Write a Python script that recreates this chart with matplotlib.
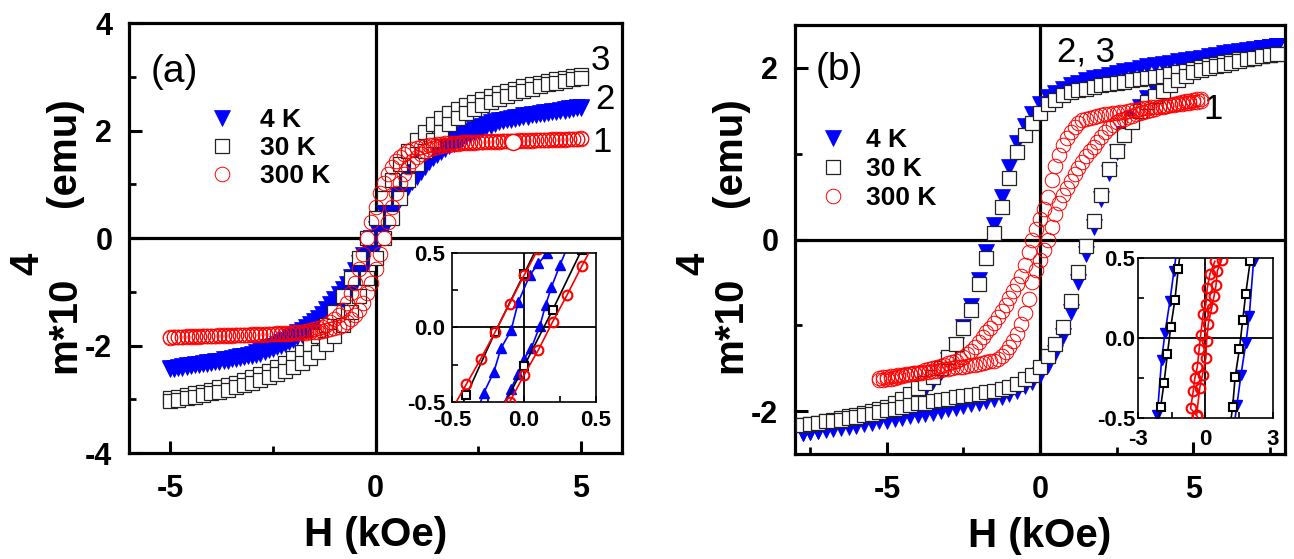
import matplotlib
matplotlib.use('Agg')
import matplotlib.pyplot as plt
from matplotlib.ticker import MultipleLocator

plt.rcParams['font.family'] = ['Liberation Sans', 'DejaVu Sans']
plt.rcParams['axes.unicode_minus'] = False

# ---------------- panel (a) data ----------------
# field grid of the 30 K sweep (kOe)
H_a = [-5.0, -4.8, -4.6, -4.4, -4.2, -4.0, -3.8, -3.6, -3.4, -3.2, -3.0, -2.8, -2.6,
       -2.4, -2.2, -2.0, -1.8, -1.6, -1.4, -1.2, -1.0, -0.8, -0.6, -0.4, -0.2, 0.0,
       0.2, 0.4, 0.6, 0.8, 1.0, 1.2, 1.4, 1.6, 1.8, 2.0, 2.2, 2.4, 2.6, 2.8, 3.0,
       3.2, 3.4, 3.6, 3.8, 4.0, 4.2, 4.4, 4.6, 4.8, 5.0]
# finer field grid of the 4 K and 300 K sweeps (kOe)
H_af = [-5.0, -4.9, -4.8, -4.7, -4.6, -4.5, -4.4, -4.3, -4.2, -4.1,
        -4.0, -3.9, -3.8, -3.7, -3.6, -3.5, -3.4, -3.3, -3.2, -3.1,
        -3.0, -2.9, -2.8, -2.7, -2.6, -2.5, -2.4, -2.3, -2.2, -2.1,
        -2.0, -1.9, -1.8, -1.7, -1.6, -1.5, -1.4, -1.3, -1.2, -1.1,
        -1.0, -0.9, -0.8, -0.7, -0.6, -0.5, -0.4, -0.3, -0.2, -0.1,
        0.0, 0.1, 0.2, 0.3, 0.4, 0.5, 0.6, 0.7, 0.8, 0.9,
        1.0, 1.1, 1.2, 1.3, 1.4, 1.5, 1.6, 1.7, 1.8, 1.9,
        2.0, 2.1, 2.2, 2.3, 2.4, 2.5, 2.6, 2.7, 2.8, 2.9,
        3.0, 3.1, 3.2, 3.3, 3.4, 3.5, 3.6, 3.7, 3.8, 3.9,
        4.0, 4.1, 4.2, 4.3, 4.4, 4.5, 4.6, 4.7, 4.8, 4.9,
        5.0]
m4K_a_dn = [-2.42, -2.41, -2.40, -2.38, -2.37, -2.36, -2.35, -2.34, -2.33, -2.31,
            -2.30, -2.29, -2.28, -2.26, -2.25, -2.23, -2.22, -2.20, -2.19, -2.17,
            -2.15, -2.12, -2.09, -2.06, -2.03, -2.00, -1.97, -1.93, -1.89, -1.84,
            -1.80, -1.75, -1.71, -1.66, -1.60, -1.54, -1.48, -1.41, -1.32, -1.23,
            -1.14, -1.04, -0.95, -0.85, -0.73, -0.60, -0.46, -0.32, -0.16, 0.00,
            0.16, 0.32, 0.46, 0.60, 0.73, 0.85, 0.95, 1.04, 1.14, 1.23,
            1.32, 1.41, 1.48, 1.54, 1.60, 1.66, 1.71, 1.75, 1.80, 1.84,
            1.89, 1.93, 1.97, 2.00, 2.03, 2.06, 2.09, 2.12, 2.15, 2.17,
            2.19, 2.20, 2.22, 2.23, 2.25, 2.26, 2.28, 2.29, 2.30, 2.31,
            2.33, 2.34, 2.35, 2.36, 2.37, 2.38, 2.40, 2.41, 2.42, 2.43,
            2.44]
m4K_a_up = [-2.44, -2.43, -2.42, -2.41, -2.40, -2.38, -2.37, -2.36, -2.35, -2.34,
            -2.33, -2.31, -2.30, -2.29, -2.28, -2.26, -2.25, -2.23, -2.22, -2.20,
            -2.19, -2.17, -2.15, -2.12, -2.09, -2.06, -2.03, -2.00, -1.97, -1.93,
            -1.89, -1.84, -1.80, -1.75, -1.71, -1.66, -1.60, -1.54, -1.48, -1.41,
            -1.32, -1.23, -1.14, -1.04, -0.95, -0.85, -0.73, -0.60, -0.46, -0.32,
            -0.16, 0.00, 0.16, 0.32, 0.46, 0.60, 0.73, 0.85, 0.95, 1.04,
            1.14, 1.23, 1.32, 1.41, 1.48, 1.54, 1.60, 1.66, 1.71, 1.75,
            1.80, 1.84, 1.89, 1.93, 1.97, 2.00, 2.03, 2.06, 2.09, 2.12,
            2.15, 2.17, 2.19, 2.20, 2.22, 2.23, 2.25, 2.26, 2.28, 2.29,
            2.30, 2.31, 2.33, 2.34, 2.35, 2.36, 2.37, 2.38, 2.40, 2.41,
            2.42]
m30K_a_dn = [-2.98, -2.95, -2.92, -2.89, -2.86, -2.82, -2.78, -2.74, -2.69, -2.64,
             -2.59, -2.53, -2.47, -2.40, -2.32, -2.23, -2.12, -1.98, -1.82, -1.62,
             -1.38, -1.08, -0.75, -0.38, 0.0, 0.38, 0.75, 1.08, 1.38, 1.62,
             1.82, 1.98, 2.12, 2.23, 2.32, 2.40, 2.47, 2.53, 2.59, 2.64,
             2.69, 2.74, 2.78, 2.82, 2.86, 2.89, 2.92, 2.95, 2.98, 3.01, 3.03]
m30K_a_up = [-3.03, -3.01, -2.98, -2.95, -2.92, -2.89, -2.86, -2.82, -2.78, -2.74,
             -2.69, -2.64, -2.59, -2.53, -2.47, -2.40, -2.32, -2.23, -2.12, -1.98,
             -1.82, -1.62, -1.38, -1.08, -0.75, -0.38, 0.0, 0.38, 0.75, 1.08,
             1.38, 1.62, 1.82, 1.98, 2.12, 2.23, 2.32, 2.40, 2.47, 2.53,
             2.59, 2.64, 2.69, 2.74, 2.78, 2.82, 2.86, 2.89, 2.92, 2.95, 2.98]
m300K_a_dn = [-1.84, -1.84, -1.84, -1.84, -1.83, -1.83, -1.83, -1.83, -1.82, -1.82,
              -1.82, -1.82, -1.81, -1.81, -1.81, -1.81, -1.80, -1.80, -1.80, -1.80,
              -1.79, -1.79, -1.79, -1.78, -1.78, -1.78, -1.77, -1.77, -1.76, -1.76,
              -1.75, -1.75, -1.74, -1.73, -1.71, -1.70, -1.68, -1.65, -1.62, -1.57,
              -1.51, -1.43, -1.33, -1.20, -1.03, -0.83, -0.58, -0.30, 0.00, 0.30,
              0.58, 0.83, 1.03, 1.20, 1.33, 1.43, 1.51, 1.57, 1.62, 1.65,
              1.68, 1.70, 1.71, 1.73, 1.74, 1.75, 1.75, 1.76, 1.76, 1.77,
              1.77, 1.78, 1.78, 1.78, 1.79, 1.79, 1.79, 1.80, 1.80, 1.80,
              1.80, 1.81, 1.81, 1.81, 1.81, 1.82, 1.82, 1.82, 1.82, 1.83,
              1.83, 1.83, 1.83, 1.84, 1.84, 1.84, 1.84, 1.85, 1.85, 1.85,
              1.86]
m300K_a_up = [-1.86, -1.85, -1.85, -1.85, -1.84, -1.84, -1.84, -1.84, -1.83, -1.83,
              -1.83, -1.83, -1.82, -1.82, -1.82, -1.82, -1.81, -1.81, -1.81, -1.81,
              -1.80, -1.80, -1.80, -1.80, -1.79, -1.79, -1.79, -1.78, -1.78, -1.78,
              -1.77, -1.77, -1.76, -1.76, -1.75, -1.75, -1.74, -1.73, -1.71, -1.70,
              -1.68, -1.65, -1.62, -1.57, -1.51, -1.43, -1.33, -1.20, -1.03, -0.83,
              -0.58, -0.30, 0.00, 0.30, 0.58, 0.83, 1.03, 1.20, 1.33, 1.43,
              1.51, 1.57, 1.62, 1.65, 1.68, 1.70, 1.71, 1.73, 1.74, 1.75,
              1.75, 1.76, 1.76, 1.77, 1.77, 1.78, 1.78, 1.78, 1.79, 1.79,
              1.79, 1.80, 1.80, 1.80, 1.80, 1.81, 1.81, 1.81, 1.81, 1.82,
              1.82, 1.82, 1.82, 1.83, 1.83, 1.83, 1.83, 1.84, 1.84, 1.84,
              1.84]
spot300_H = [3.35]
spot300_M = [1.79]

# inset (a)
ia_red_H1 = [-0.6, -0.5, -0.4, -0.3, -0.2, -0.1, 0.0, 0.1]
ia_red_M1 = [-0.72, -0.55, -0.38, -0.21, -0.03, 0.16, 0.35, 0.53]
ia_red_H2 = [-0.2, -0.1, 0.0, 0.1, 0.2, 0.3, 0.4, 0.5]
ia_red_M2 = [-0.68, -0.50, -0.32, -0.15, 0.04, 0.22, 0.41, 0.59]
ia_blk_H1 = [-0.6, -0.4, -0.2, 0.0, 0.2]
ia_blk_M1 = [-0.86, -0.455, -0.03, 0.36, 0.75]
ia_blk_H2 = [-0.2, 0.0, 0.2, 0.4, 0.6]
ia_blk_M2 = [-0.64, -0.26, 0.12, 0.52, 0.90]
ia_blu_H1 = [-0.33, -0.28, -0.21, -0.16, -0.09, -0.04, 0.04, 0.10, 0.16, 0.22]
ia_blu_M1 = [-0.58, -0.44, -0.30, -0.14, -0.02, 0.17, 0.35, 0.43, 0.50, 0.60]
ia_blu_H2 = [-0.16, -0.09, -0.04, 0.0, 0.05, 0.11, 0.15, 0.19, 0.25, 0.31]
ia_blu_M2 = [-0.55, -0.41, -0.31, -0.21, -0.14, 0.01, 0.15, 0.27, 0.42, 0.56]

# ---------------- panel (b) data ----------------
H_b = [-7.75, -7.5, -7.25, -7.0, -6.75, -6.5, -6.25, -6.0, -5.75, -5.5, -5.25, -5.0,
       -4.75, -4.5, -4.25, -4.0, -3.75, -3.5, -3.25, -3.0, -2.75, -2.5, -2.25, -2.0,
       -1.75, -1.5, -1.25, -1.0, -0.75, -0.5, -0.25, 0.0, 0.25, 0.5, 0.75, 1.0,
       1.25, 1.5, 1.75, 2.0, 2.25, 2.5, 2.75, 3.0, 3.25, 3.5, 3.75, 4.0, 4.25,
       4.5, 4.75, 5.0, 5.25, 5.5, 5.75, 6.0, 6.25, 6.5, 6.75, 7.0, 7.25, 7.5, 7.75]
m30K_b_dn = [-2.16, -2.15, -2.14, -2.12, -2.10, -2.08, -2.06, -2.04, -2.02, -2.00,
             -1.98, -1.95, -1.91, -1.86, -1.80, -1.73, -1.67, -1.60, -1.50, -1.37,
             -1.22, -1.03, -0.82, -0.52, -0.22, 0.08, 0.38, 0.72, 1.02, 1.22,
             1.36, 1.48, 1.58, 1.63, 1.68, 1.72, 1.74, 1.76, 1.78, 1.80,
             1.81, 1.82, 1.84, 1.86, 1.87, 1.88, 1.90, 1.91, 1.93, 1.95,
             1.97, 1.99, 2.01, 2.03, 2.05, 2.07, 2.08, 2.10, 2.11, 2.12,
             2.14, 2.15, 2.16]
m30K_b_up = [-2.16, -2.15, -2.14, -2.12, -2.11, -2.10, -2.08, -2.07, -2.05, -2.03,
             -2.01, -1.99, -1.97, -1.95, -1.93, -1.91, -1.90, -1.88, -1.87, -1.86,
             -1.84, -1.82, -1.81, -1.80, -1.78, -1.76, -1.74, -1.72, -1.68, -1.63,
             -1.58, -1.48, -1.36, -1.22, -1.02, -0.72, -0.38, -0.08, 0.22, 0.52,
             0.82, 1.03, 1.22, 1.37, 1.50, 1.60, 1.67, 1.73, 1.80, 1.86,
             1.91, 1.95, 1.98, 2.00, 2.02, 2.04, 2.06, 2.08, 2.10, 2.12,
             2.14, 2.15, 2.16]
m4K_b_dn = [-2.26, -2.24, -2.23, -2.21, -2.19, -2.17, -2.15, -2.13, -2.11, -2.09,
            -2.06, -2.03, -1.99, -1.94, -1.88, -1.81, -1.74, -1.65, -1.54, -1.40,
            -1.23, -1.02, -0.78, -0.47, -0.15, 0.17, 0.50, 0.84, 1.12, 1.32,
            1.46, 1.58, 1.66, 1.71, 1.76, 1.80, 1.83, 1.86, 1.88, 1.90,
            1.92, 1.94, 1.96, 1.98, 2.00, 2.02, 2.03, 2.05, 2.06, 2.08,
            2.09, 2.11, 2.12, 2.14, 2.15, 2.17, 2.18, 2.20, 2.21, 2.22,
            2.23, 2.24, 2.25]
m4K_b_up = [-2.25, -2.24, -2.23, -2.22, -2.21, -2.20, -2.18, -2.17, -2.15, -2.14,
            -2.12, -2.11, -2.09, -2.08, -2.06, -2.05, -2.03, -2.02, -2.00, -1.98,
            -1.96, -1.94, -1.92, -1.90, -1.88, -1.86, -1.83, -1.80, -1.76, -1.71,
            -1.66, -1.58, -1.46, -1.32, -1.12, -0.84, -0.50, -0.17, 0.15, 0.47,
            0.78, 1.02, 1.23, 1.40, 1.54, 1.65, 1.74, 1.81, 1.88, 1.94,
            1.99, 2.03, 2.06, 2.09, 2.11, 2.13, 2.15, 2.17, 2.19, 2.21,
            2.23, 2.24, 2.26]
H_b300 = [-5.25, -5.125, -5.0, -4.875, -4.75, -4.625, -4.5, -4.375,
          -4.25, -4.125, -4.0, -3.875, -3.75, -3.625, -3.5, -3.375,
          -3.25, -3.125, -3.0, -2.875, -2.75, -2.625, -2.5, -2.375,
          -2.25, -2.125, -2.0, -1.875, -1.75, -1.625, -1.5, -1.375,
          -1.25, -1.125, -1.0, -0.875, -0.75, -0.625, -0.5, -0.375,
          -0.25, -0.125, 0.0, 0.125, 0.25, 0.375, 0.5, 0.625,
          0.75, 0.875, 1.0, 1.125, 1.25, 1.375, 1.5, 1.625,
          1.75, 1.875, 2.0, 2.125, 2.25, 2.375, 2.5, 2.625,
          2.75, 2.875, 3.0, 3.125, 3.25, 3.375, 3.5, 3.625,
          3.75, 3.875, 4.0, 4.125, 4.25, 4.375, 4.5, 4.625,
          4.75, 4.875, 5.0, 5.125, 5.25]
m300K_b_dn = [-1.64, -1.64, -1.63, -1.62, -1.61, -1.60, -1.59, -1.58,
              -1.57, -1.56, -1.55, -1.54, -1.52, -1.51, -1.50, -1.49,
              -1.47, -1.46, -1.44, -1.43, -1.41, -1.39, -1.37, -1.34,
              -1.30, -1.25, -1.19, -1.14, -1.08, -1.03, -0.97, -0.90,
              -0.83, -0.76, -0.68, -0.60, -0.52, -0.42, -0.30, -0.15,
              0.00, 0.12, 0.24, 0.36, 0.50, 0.69, 0.86, 0.99,
              1.10, 1.18, 1.25, 1.31, 1.36, 1.39, 1.41, 1.42,
              1.43, 1.44, 1.45, 1.46, 1.46, 1.47, 1.48, 1.49,
              1.49, 1.50, 1.51, 1.51, 1.52, 1.53, 1.53, 1.54,
              1.54, 1.55, 1.56, 1.56, 1.57, 1.57, 1.58, 1.58,
              1.59, 1.59, 1.60, 1.60, 1.61]
m300K_b_up = [-1.61, -1.60, -1.60, -1.59, -1.59, -1.58, -1.58, -1.57,
              -1.57, -1.56, -1.56, -1.55, -1.54, -1.54, -1.53, -1.53,
              -1.52, -1.51, -1.51, -1.50, -1.49, -1.49, -1.48, -1.47,
              -1.46, -1.46, -1.45, -1.44, -1.43, -1.42, -1.41, -1.39,
              -1.36, -1.31, -1.25, -1.18, -1.10, -0.99, -0.86, -0.69,
              -0.50, -0.36, -0.24, -0.12, 0.00, 0.15, 0.30, 0.42,
              0.52, 0.60, 0.68, 0.76, 0.83, 0.90, 0.97, 1.03,
              1.08, 1.14, 1.19, 1.25, 1.30, 1.34, 1.37, 1.39,
              1.41, 1.43, 1.44, 1.46, 1.47, 1.49, 1.50, 1.51,
              1.52, 1.54, 1.55, 1.56, 1.57, 1.58, 1.59, 1.60,
              1.61, 1.62, 1.63, 1.64, 1.64]

# inset (b)
ib_blk_H1 = [-2.15, -1.99, -1.84, -1.69, -1.54, -1.36, -1.21, -1.06]
ib_blk_M1 = [-0.60, -0.43, -0.28, -0.10, 0.07, 0.235, 0.43, 0.60]
ib_blk_H2 = [1.05, 1.21, 1.32, 1.51, 1.66, 1.79, 1.99, 2.15]
ib_blk_M2 = [-0.60, -0.43, -0.245, -0.07, 0.115, 0.275, 0.48, 0.65]
ib_blu_H1 = [-2.30, -2.14, -1.95, -1.80, -1.58, -1.40, -1.20]
ib_blu_M1 = [-0.66, -0.48, -0.14, 0.03, 0.23, 0.42, 0.62]
ib_blu_H2 = [1.20, 1.40, 1.58, 1.80, 1.95, 2.14, 2.30]
ib_blu_M2 = [-0.62, -0.42, -0.23, -0.03, 0.14, 0.48, 0.66]
ib_red_H1 = [-0.36, -0.66, -0.54, -0.47, -0.36, -0.28, -0.21, -0.10, 0.02, 0.08, 0.20, 0.42]
ib_red_M1 = [-0.49, -0.44, -0.33, -0.25, -0.18, -0.07, 0.02, 0.15, 0.21, 0.31, 0.40, 0.48]
ib_red_H2 = [0.72, 0.53, 0.47, 0.38, 0.28, 0.13, 0.05, 0.02, -0.13, -0.25, -0.39]
ib_red_M2 = [0.49, 0.42, 0.33, 0.26, 0.19, 0.09, -0.02, -0.125, -0.23, -0.31, -0.48]

legend_labels = ['4 K', '30 K', '300 K']

BLUE = '#0000FF'
RED = '#FF0000'

fig = plt.figure(figsize=(12.94, 5.59), dpi=100)


def style_main(ax, xlim, ylim, xmaj, xmin, ymaj, ymin):
    ax.set_xlim(*xlim)
    ax.set_ylim(*ylim)
    ax.xaxis.set_major_locator(MultipleLocator(xmaj))
    ax.xaxis.set_minor_locator(MultipleLocator(xmin))
    ax.yaxis.set_major_locator(MultipleLocator(ymaj))
    ax.yaxis.set_minor_locator(MultipleLocator(ymin))
    for s in ax.spines.values():
        s.set_linewidth(2.3)
    ax.tick_params(which='major', direction='in', length=9, width=2.2, labelsize=22)
    ax.tick_params(which='minor', direction='in', length=5, width=2.0)
    ax.tick_params(axis='x', which='major', pad=15)
    ax.tick_params(axis='y', which='major', pad=12)
    for lab in ax.get_xticklabels() + ax.get_yticklabels():
        lab.set_fontweight('bold')
    ax.axhline(0, color='k', lw=2.3, zorder=1)
    ax.axvline(0, color='k', lw=2.3, zorder=1)
    ax.set_xlabel('H (kOe)', fontsize=29, fontweight='bold', labelpad=9)


def style_inset(ax, xlim, xmaj, xmin):
    ax.set_xlim(*xlim)
    ax.set_ylim(-0.5, 0.5)
    ax.xaxis.set_major_locator(MultipleLocator(xmaj))
    ax.xaxis.set_minor_locator(MultipleLocator(xmin))
    ax.yaxis.set_major_locator(MultipleLocator(0.5))
    ax.yaxis.set_minor_locator(MultipleLocator(0.25))
    for s in ax.spines.values():
        s.set_linewidth(1.2)
    ax.tick_params(which='major', direction='in', length=4, width=1.2, labelsize=16)
    ax.tick_params(which='minor', direction='in', length=4, width=1.2)
    for lab in ax.get_xticklabels() + ax.get_yticklabels():
        lab.set_fontweight('bold')
    ax.axhline(0, color='k', lw=1.3, zorder=1)
    ax.axvline(0, color='k', lw=1.3, zorder=1)


tri = dict(marker='v', ms=11, mfc=BLUE, mec=BLUE, mew=0.5, ls='none')
sq = dict(marker='s', ms=9.5, mfc='white', mec='#222222', mew=0.9, ls='none')
circ = dict(marker='o', ms=10.5, mfc='none', mec=RED, mew=0.7, ls='none')

# ---------------- panel (a) ----------------
axa = fig.add_axes([0.0997, 0.1896, 0.3810, 0.7692])
style_main(axa, (-6, 6), (-4, 4), 5, 2.5, 2, 1)
la4, = axa.plot(H_af, m4K_a_dn, zorder=2, **tri)
axa.plot(H_af, m4K_a_up, zorder=2, **tri)
la30, = axa.plot(H_a, m30K_a_dn, zorder=3, **sq)
axa.plot(H_a, m30K_a_up, zorder=3, **sq)
la300, = axa.plot(H_af, m300K_a_dn, zorder=4, **circ)
axa.plot(H_af, m300K_a_up, zorder=4, **circ)
axa.plot(spot300_H, spot300_M, marker='o', ms=11.5, mfc='white', mec=RED, mew=1.0,
         ls='none', zorder=5)
axa.legend([la4, la30, la300], legend_labels, loc='center left',
           bbox_to_anchor=(0.162, 0.709), frameon=False,
           prop=dict(weight='bold', size=19), handlelength=1.0,
           handletextpad=0.95, labelspacing=0.15, borderpad=0, borderaxespad=0,
           numpoints=1)
axa.text(0.091, 0.886, '(a)', transform=axa.transAxes, fontsize=28,
         ha='center', va='center')
axa.text(0.957, 0.914, '3', transform=axa.transAxes, fontsize=25, ha='center', va='center')
axa.text(0.966, 0.821, '2', transform=axa.transAxes, fontsize=25, ha='center', va='center')
axa.text(0.959, 0.721, '1', transform=axa.transAxes, fontsize=25, ha='center', va='center')

# inset (a)
ina = fig.add_axes([0.3493, 0.2809, 0.1113, 0.2665])
style_inset(ina, (-0.5, 0.5), 0.5, 0.25)
ina.tick_params(axis='y', which='major', pad=5)
ina.tick_params(axis='x', which='major', pad=6)
for Hs, Ms in ((ia_blu_H1, ia_blu_M1), (ia_blu_H2, ia_blu_M2)):
    ina.plot(Hs, Ms, color=BLUE, lw=1.2, marker='^', ms=7.5, mfc=BLUE, mec=BLUE,
             zorder=2)
for Hs, Ms in ((ia_blk_H1, ia_blk_M1), (ia_blk_H2, ia_blk_M2)):
    ina.plot(Hs, Ms, color='k', lw=1.2, marker='s', ms=5.5, mfc='white', mec='k',
             mew=1.5, zorder=3)
for Hs, Ms in ((ia_red_H1, ia_red_M1), (ia_red_H2, ia_red_M2)):
    ina.plot(Hs, Ms, color=RED, lw=1.2, marker='o', ms=7, mfc='none', mec=RED,
             mew=1.5, zorder=4)

# ---------------- panel (b) ----------------
axb = fig.add_axes([0.6144, 0.1878, 0.3787, 0.7674])
style_main(axb, (-8, 8), (-2.5, 2.5), 5, 2.5, 2, 1)
lb4, = axb.plot(H_b, m4K_b_dn, zorder=2, **tri)
axb.plot(H_b, m4K_b_up, zorder=2, **tri)
lb30, = axb.plot(H_b, m30K_b_dn, zorder=3, **sq)
axb.plot(H_b, m30K_b_up, zorder=3, **sq)
lb300, = axb.plot(H_b300, m300K_b_dn, zorder=4, **circ)
axb.plot(H_b300, m300K_b_up, zorder=4, **circ)
axb.legend([lb4, lb30, lb300], legend_labels, loc='center left',
           bbox_to_anchor=(0.051, 0.664), frameon=False,
           prop=dict(weight='bold', size=19), handlelength=1.0,
           handletextpad=0.76, labelspacing=0.2, borderpad=0, borderaxespad=0,
           numpoints=1)
axb.text(0.0898, 0.895, '(b)', transform=axb.transAxes, fontsize=28,
         ha='center', va='center')
axb.text(0.535, 0.937, '2, 3', transform=axb.transAxes, fontsize=25, ha='left', va='center')
axb.text(0.853, 0.802, '1', transform=axb.transAxes, fontsize=25, ha='center', va='center')

# inset (b)
inb = fig.add_axes([0.8794, 0.2522, 0.1043, 0.2862])
style_inset(inb, (-3, 3), 3, 1.5)
inb.tick_params(axis='y', which='major', pad=2)
inb.tick_params(axis='x', which='major', pad=8)
for Hs, Ms in ((ib_blu_H1, ib_blu_M1), (ib_blu_H2, ib_blu_M2)):
    inb.plot(Hs, Ms, color=BLUE, lw=1.2, marker='v', ms=7.5, mfc=BLUE, mec=BLUE,
             zorder=2)
for Hs, Ms in ((ib_blk_H1, ib_blk_M1), (ib_blk_H2, ib_blk_M2)):
    inb.plot(Hs, Ms, color='k', lw=1.2, marker='s', ms=5.5, mfc='white', mec='k',
             mew=1.5, zorder=3)
for Hs, Ms in ((ib_red_H1, ib_red_M1), (ib_red_H2, ib_red_M2)):
    inb.plot(Hs, Ms, color=RED, lw=1.2, marker='o', ms=7, mfc='none', mec=RED,
             mew=1.5, zorder=4)

# ---------------- y labels: m*10^4 (emu) with a full-size raised 4 ----------------
for xb, xs in ((0.0580, 0.0300), (0.5727, 0.5447)):
    fig.text(xb, 0.3327, 'm*10', rotation=90, rotation_mode='anchor', ha='left',
             va='baseline', fontsize=29, fontweight='bold')
    fig.text(xs, 0.508, '4', rotation=90, rotation_mode='anchor', ha='left',
             va='baseline', fontsize=29, fontweight='bold')
    fig.text(xb, 0.630, '(emu)', rotation=90, rotation_mode='anchor', ha='left',
             va='baseline', fontsize=29, fontweight='bold')

fig.savefig('out.png', dpi=100)
